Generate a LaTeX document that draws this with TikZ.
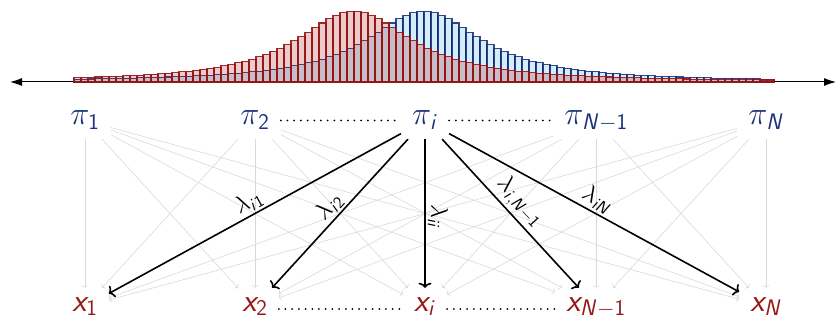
\documentclass[tikz,border=0pt]{standalone}
\usepackage{fontspec}
\usepackage{graphicx}
\usetikzlibrary{arrows.meta}
\DeclareMathAlphabet{\mathsfit}{OT1}{cmss}{m}{sl}
\DeclareMathAlphabet{\mathsfup}{OT1}{cmss}{m}{n}
\DeclareMathSizes{24.88}{24.88}{17.28}{12}
\DeclareMathSizes{17.28}{17.28}{12}{10}
\newcommand{\bigtxt}[1]{\scalebox{1.3}{\Huge #1}}
\newcommand{\labtxt}[1]{\scalebox{1.4}{\LARGE #1}}
\definecolor{piblue}{RGB}{25,50,125}
\definecolor{xred}{RGB}{150,25,25}
\definecolor{barblue}{RGB}{200,232,252}
\definecolor{edgeblue}{RGB}{20,40,110}
\definecolor{barred}{RGB}{165,20,20}
\definecolor{edgered}{RGB}{150,20,20}
\tikzset{
  pinode/.style={text=piblue, text height=13pt, text depth=4pt, inner xsep=11pt, inner ysep=10pt},
  xnode/.style={text=xred, text height=13pt, text depth=4pt, inner xsep=11pt, inner ysep=10pt},
  grayarr/.style={draw=black!15, line width=0.6pt, -{To[length=2.5pt,width=7pt]}},
  blackarr/.style={draw=black, line width=1.6pt, -{To[length=5pt,width=13pt]}},
  lab/.style={inner sep=2pt},
  dotline/.style={draw=black, line width=2pt, dash pattern=on 0pt off 6.7pt, line cap=round},
  bluebar/.style={fill=barblue, fill opacity=0.8, draw=edgeblue, draw opacity=0.85, line width=1.1pt},
  redbar/.style={fill=barred, fill opacity=0.22, draw=edgered, draw opacity=0.9, line width=1.1pt},
  axisline/.style={draw=black, line width=1pt, {Latex[length=12pt,width=8pt]}-{Latex[length=12pt,width=8pt]}}
}
\begin{document}
\begin{tikzpicture}[x=1pt,y=-1pt]
\useasboundingbox (0,0) rectangle (837,320);
% axis
\coordinate (axL) at (10,82);
\coordinate (axR) at (836,82);
\draw[axisline] (axL) -- (axR);
% histograms
\foreach \k in {0,...,99} {
  \pgfmathsetmacro\xa{74+7*\k}
  \pgfmathsetmacro\hb{71/(1+((\xa+3.5-424)/70)^2)}
  \path[bluebar] (\xa,82) rectangle ++(7,-\hb);
}
\foreach \k in {0,...,99} {
  \pgfmathsetmacro\xa{74+7*\k}
  \pgfmathsetmacro\hr{71/(1+((\xa+3.5-354)/70)^2)}
  \path[redbar] (\xa,82) rectangle ++(7,-\hr);
}
% nodes
\node[pinode] (p1) at (85,120.5) {\bigtxt{$\pi_{\mathsfup{1}}$}};
\node[pinode] (p2) at (255,120.5) {\bigtxt{$\pi_{\mathsfup{2}}$}};
\node[pinode] (pi) at (425,120.5) {\bigtxt{$\pi_{\mathsfit{i}}$}};
\node[pinode] (pm) at (596,120.5) {\bigtxt{$\pi_{\mathsfit{N}-\mathsfup{1}}$}};
\node[pinode] (pn) at (766,120.5) {\bigtxt{$\pi_{\mathsfit{N}}$}};
\node[xnode] (x1) at (85,306.5) {\bigtxt{$\mathsfit{x}_{\mathsfup{1}}$}};
\node[xnode] (x2) at (255,306.5) {\bigtxt{$\mathsfit{x}_{\mathsfup{2}}$}};
\node[xnode] (xi) at (425,306.5) {\bigtxt{$\mathsfit{x}_{\mathsfit{i}}$}};
\node[xnode] (xm) at (596,306.5) {\bigtxt{$\mathsfit{x}_{\mathsfit{N}-\mathsfup{1}}$}};
\node[xnode] (xn) at (766,306.5) {\bigtxt{$\mathsfit{x}_{\mathsfit{N}}$}};
% gray connectors
\foreach \a in {p1,p2,pi,pm,pn}
  \foreach \b in {x1,x2,xi,xm,xn}
    \draw[grayarr] (\a) -- (\b);
% dots
\draw[dotline] (p2) -- (pi);
\draw[dotline] (pi) -- (pm);
\draw[dotline] ([yshift=-2.5pt]x2.east) -- ([yshift=-2.5pt]xi.west);
\draw[dotline] ([yshift=-2.5pt]xi.east) -- ([yshift=-2.5pt]xm.west);
% black connectors
\draw[blackarr] (pi) -- node[lab, pos=0.5, above, sloped] {\labtxt{$\lambda_{\mathsfit{i}\mathsfup{1}}$}} (x1);
\draw[blackarr] (pi) -- node[lab, pos=0.51, above, sloped] {\labtxt{$\lambda_{\mathsfit{i}\mathsfup{2}}$}} (x2);
\draw[blackarr] (pi) -- node[lab, pos=0.52, above, sloped] {\labtxt{$\lambda_{\mathsfit{i}\mathsfit{i}}$}} (xi);
\draw[blackarr] (pi) -- node[lab, pos=0.49, above, sloped] {\labtxt{$\lambda_{\mathsfit{i},\mathsfit{N}-\mathsfup{1}}$}} (xm);
\draw[blackarr] (pi) -- node[lab, pos=0.49, above, sloped] {\labtxt{$\lambda_{\mathsfit{i}\mathsfit{N}}$}} (xn);
\end{tikzpicture}
\end{document}
